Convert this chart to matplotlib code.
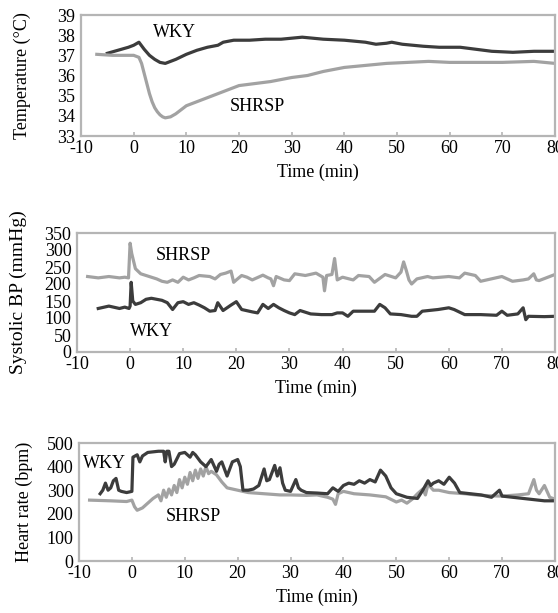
import matplotlib
matplotlib.use("Agg")
import matplotlib.pyplot as plt

plt.rcParams['font.family'] = ['Liberation Serif', 'DejaVu Serif']

# ---------------- Temperature ----------------
temp_wky_t = [-5, -3, -1, 0, 1, 2, 3, 4, 5, 6, 7, 8, 10, 12, 14, 16, 17, 18, 19, 22, 25, 28, 32, 36, 40, 44, 46, 48, 49, 51, 55, 58, 62, 65, 68, 72, 76, 80]
temp_wky_v = [37.1, 37.25, 37.4, 37.5, 37.65, 37.3, 37.0, 36.8, 36.65, 36.6, 36.7, 36.8, 37.05, 37.25, 37.4, 37.5, 37.65, 37.7, 37.75, 37.75, 37.8, 37.8, 37.9, 37.8, 37.75, 37.65, 37.55, 37.6, 37.65, 37.55, 37.45, 37.4, 37.4, 37.3, 37.2, 37.15, 37.2, 37.2]
temp_shr_t = [-7, -4, -1, 0, 1, 1.5, 2, 2.5, 3, 3.5, 4, 4.5, 5, 5.5, 6, 7, 8, 9, 10, 12, 15, 18, 20, 23, 26, 30, 33, 36, 40, 44, 48, 52, 56, 60, 65, 70, 76, 80]
temp_shr_v = [37.05, 37.0, 37.0, 37.0, 36.9, 36.6, 36.1, 35.6, 35.1, 34.7, 34.4, 34.2, 34.05, 33.95, 33.9, 33.95, 34.1, 34.3, 34.5, 34.7, 35.0, 35.3, 35.5, 35.6, 35.7, 35.9, 36.0, 36.2, 36.4, 36.5, 36.6, 36.65, 36.7, 36.65, 36.65, 36.65, 36.7, 36.6]

# ---------------- Systolic BP ----------------
bp_shr_t = [-8, -6, -4, -2, -1, -0.3, 0, 0.3, 1, 2, 3, 4, 5, 6, 7, 8, 9, 10, 11, 12, 13, 15, 16, 17, 18, 19, 19.5, 20, 21, 22, 23, 25, 26, 26.5, 27, 27.5, 29, 30, 31, 33, 35, 36.3, 36.6, 37, 38, 38.5, 39, 40, 42, 43, 45, 46, 48, 50, 51, 51.5, 52, 52.5, 53, 54, 56, 57, 60, 62, 63, 65, 66, 68, 70, 72, 74, 75, 76, 76.5, 77, 79, 80]
bp_shr_v = [222, 218, 222, 218, 220, 218, 320, 290, 245, 230, 225, 220, 215, 208, 205, 212, 205, 220, 212, 218, 225, 222, 215, 228, 232, 238, 205, 212, 225, 220, 212, 226, 218, 215, 195, 222, 212, 210, 230, 225, 232, 220, 180, 225, 228, 275, 212, 220, 212, 225, 222, 205, 228, 218, 235, 265, 240, 212, 200, 215, 222, 218, 222, 218, 232, 225, 208, 215, 222, 208, 212, 215, 230, 212, 210, 222, 228]
bp_wky_t = [-6, -4, -2, -1, -0.2, 0, 0.2, 0.5, 1, 2, 3, 4, 5, 6, 7, 8, 9, 10, 11, 12, 13, 14, 15, 16, 16.5, 17.5, 19, 20, 21, 23, 24, 25, 26, 27, 28, 29, 30, 31, 32, 34, 36, 38, 39, 40, 41, 42, 44, 46, 47, 48, 49, 51, 53, 54, 55, 58, 60, 61, 63, 66, 69, 70, 71, 73, 74, 74.5, 75, 78, 80]
bp_wky_v = [128, 135, 128, 132, 128, 135, 205, 150, 140, 145, 155, 158, 155, 152, 145, 125, 145, 148, 140, 145, 138, 130, 120, 122, 145, 122, 138, 148, 125, 118, 115, 140, 128, 140, 130, 122, 115, 110, 122, 112, 110, 110, 115, 115, 105, 120, 120, 120, 140, 130, 112, 110, 105, 105, 120, 125, 130, 125, 110, 110, 108, 120, 108, 112, 130, 95, 105, 104, 105]

# ---------------- Heart rate ----------------
hr_wky_t = [-6, -5.5, -5, -4.5, -4, -3.5, -3, -2.5, -2, -1, 0, 0.2, 1, 1.5, 2, 3, 5, 6, 6.3, 6.6, 7, 7.5, 8, 9, 10, 11, 11.5, 12, 13, 14, 15, 16, 16.5, 17, 18, 19, 20, 20.5, 21, 22, 23, 24, 25, 25.5, 26, 27, 27.5, 28, 28.5, 29, 30, 31, 31.5, 32, 33, 35, 37, 38, 39, 40, 41, 42, 43, 44, 45, 46, 47, 48, 49, 50, 52, 54, 55, 56, 56.5, 57, 58, 59, 60, 61, 62, 64, 66, 68, 69.5, 70, 72, 74, 76, 78, 80]
hr_wky_v = [285, 300, 330, 300, 310, 340, 350, 300, 295, 290, 295, 440, 450, 420, 445, 460, 465, 465, 420, 465, 465, 400, 410, 455, 460, 440, 460, 450, 420, 400, 430, 380, 410, 420, 360, 420, 430, 400, 300, 300, 305, 320, 390, 340, 345, 405, 360, 395, 330, 300, 295, 345, 310, 300, 290, 288, 285, 310, 295, 320, 330, 325, 340, 330, 345, 335, 385, 360, 310, 285, 270, 265, 300, 340, 320, 330, 340, 325, 355, 330, 290, 285, 280, 270, 300, 275, 270, 265, 260, 255, 255]
hr_shr_t = [-8, -4, -1, 0, 0.5, 1, 2, 3, 4, 5, 5.5, 6, 6.5, 7, 7.5, 8, 8.5, 9, 9.5, 10, 10.5, 11, 11.5, 12, 12.5, 13, 13.5, 14, 14.5, 15, 16, 17, 18, 20, 22, 25, 28, 30, 33, 35, 37, 38, 38.5, 39, 40, 42, 45, 48, 50, 51, 52, 53, 54, 55, 55.5, 56, 57, 58, 60, 63, 65, 68, 70, 73, 75, 76, 76.5, 77, 78, 79, 80]
hr_shr_v = [258, 255, 252, 258, 230, 215, 225, 245, 265, 280, 255, 300, 270, 305, 280, 320, 290, 345, 310, 355, 325, 375, 340, 385, 350, 390, 360, 400, 370, 380, 365, 335, 310, 300, 290, 285, 280, 280, 278, 280, 270, 262, 240, 285, 295, 285, 280, 272, 250, 258, 245, 262, 285, 305, 280, 325, 300, 300, 290, 285, 280, 276, 275, 280, 285, 345, 300, 285, 320, 270, 262]

x_ticks = [-10, 0, 10, 20, 30, 40, 50, 60, 70, 80]
temp_ticks = [33, 34, 35, 36, 37, 38, 39]
bp_ticks = [0, 50, 100, 150, 200, 250, 300, 350]
hr_ticks = [0, 100, 200, 300, 400, 500]

W, H = 558, 613
fig = plt.figure(figsize=(W / 100, H / 100), dpi=100)

WKY_C = '#3c3c3c'
SHR_C = '#a2a2a2'
FRAME_C = '#b5b5b5'
FS = 13
LW = 2.3


def make_ax(left, right, top, bottom, label_right_px, label_y=0.5):
    ax = fig.add_axes([left / W, (H - bottom) / H, (right - left) / W, (bottom - top) / H])
    for s in ax.spines.values():
        s.set_color(FRAME_C)
        s.set_linewidth(1.6)
    ax.set_xlim(-10, 80)
    ax.set_xticks(x_ticks)
    ax.set_xticklabels([str(t) for t in x_ticks])
    ax.tick_params(axis='x', direction='in', length=3, color=FRAME_C, width=1.2, labelsize=FS, pad=3)
    ax.tick_params(axis='y', length=0, labelsize=FS, pad=4)
    ax.yaxis.set_label_coords((label_right_px - left) / (right - left), label_y)
    return ax


ax1 = make_ax(81, 555, 15, 136, 31)
ax1.plot(temp_wky_t, temp_wky_v, color=WKY_C, lw=LW)
ax1.plot(temp_shr_t, temp_shr_v, color=SHR_C, lw=LW)
ax1.set_ylim(33, 39)
ax1.set_yticks(temp_ticks)
ax1.set_ylabel('Temperature (°C)', fontsize=FS)
ax1.set_xlabel('Time (min)', fontsize=FS, labelpad=5)
ax1.text(7.7, 38.15, 'WKY', fontsize=FS, ha='center', va='center')
ax1.text(23.5, 34.45, 'SHRSP', fontsize=FS, ha='center', va='center')

ax2 = make_ax(77, 555, 233, 352, 27, 0.54)
ax2.plot(bp_shr_t, bp_shr_v, color=SHR_C, lw=LW)
ax2.plot(bp_wky_t, bp_wky_v, color=WKY_C, lw=LW)
ax2.set_ylim(0, 350)
ax2.set_yticks(bp_ticks)
ax2.set_ylabel('Systolic BP (mmHg)', fontsize=14)
ax2.set_xlabel('Time (min)', fontsize=FS, labelpad=5)
ax2.text(10, 283, 'SHRSP', fontsize=FS, ha='center', va='center')
ax2.text(4, 60, 'WKY', fontsize=FS, ha='center', va='center')

ax3 = make_ax(79, 555, 443, 561, 33)
ax3.plot(hr_shr_t, hr_shr_v, color=SHR_C, lw=LW)
ax3.plot(hr_wky_t, hr_wky_v, color=WKY_C, lw=LW)
ax3.set_ylim(0, 500)
ax3.set_yticks(hr_ticks)
ax3.set_ylabel('Heart rate (bpm)', fontsize=FS)
ax3.set_xlabel('Time (min)', fontsize=FS, labelpad=5)
ax3.text(-5.2, 415, 'WKY', fontsize=FS, ha='center', va='center')
ax3.text(11.6, 188, 'SHRSP', fontsize=FS, ha='center', va='center')

fig.savefig('out.png', dpi=100)
